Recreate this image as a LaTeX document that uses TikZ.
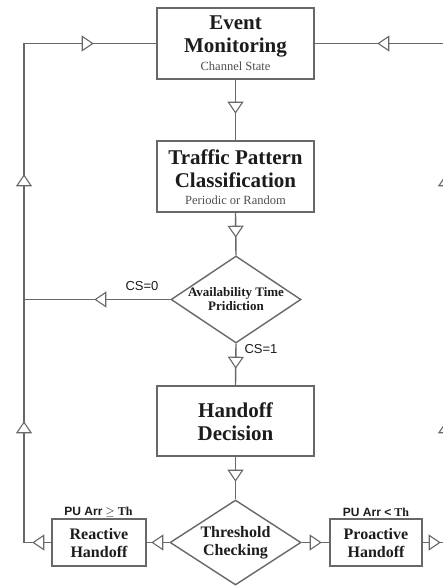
\documentclass[tikz,border=0pt]{standalone}
\usepackage{fontspec}
\setmainfont{Liberation Serif}
\newfontfamily\labelsans{Liberation Sans}
\usetikzlibrary{arrows.meta,decorations.markings,shapes.geometric}

\definecolor{linegray}{HTML}{686868}
\definecolor{inkdark}{HTML}{1C1C1C}
\definecolor{subgray}{HTML}{505050}

\tikzset{
  flowhead/.tip={Triangle[length=12pt,width=16pt,fill=white,line width=1.1pt]},
  arrowat/.style={postaction={decorate,decoration={markings,
      mark=at position #1 with {\arrow{flowhead}}}}},
  flow/.style={draw=linegray,line width=1.4pt},
  procbox/.style={draw=linegray,line width=1.4pt,rectangle,inner sep=0pt,
      minimum width=157pt,minimum height=71pt},
  smallbox/.style={draw=linegray,line width=1.4pt,rectangle,inner sep=0pt,
      minimum height=47pt},
  decision/.style={draw=linegray,line width=1.4pt,diamond,inner sep=0pt},
  bigtitle/.style={text=inkdark,align=center,inner sep=0pt,
      font=\fontsize{21}{23}\selectfont\bfseries},
  subtitle/.style={text=subgray,inner sep=0pt,font=\fontsize{12.5}{14}\selectfont},
  dectext/.style={text=inkdark,align=center,inner sep=0pt},
  condlabel/.style={text=inkdark,inner sep=0pt,font=\labelsans\fontsize{13}{15}\selectfont},
  arrlabel/.style={text=inkdark,inner sep=0pt,font=\fontsize{12}{14}\selectfont\bfseries},
}

\begin{document}
\begin{tikzpicture}[x=1pt,y=-1pt]
\useasboundingbox (0,0) rectangle (443,587);
\fill[white] (0,0) rectangle (443,587);
\clip (0,0) rectangle (443,587);

% process boxes
\node[procbox] (ev) at (235.5,43.5) {};
\node[bigtitle] (evtxt) at (235.5,36) {Event\\Monitoring};
\node[subtitle] (evsub) at (235.5,66) {Channel State};

\node[procbox] (tp) at (235.5,176.5) {};
\node[bigtitle] (tptxt) at (235.5,169) {Traffic Pattern\\Classification};
\node[subtitle] (tpsub) at (235.5,200) {Periodic or Random};

\node[procbox,minimum height=70pt] (hd) at (235.5,421) {};
\node[bigtitle] (hdtxt) at (235.5,421.5) {Handoff\\Decision};

% decisions
\node[decision,minimum width=130pt,minimum height=87pt] (av) at (236,299.5) {};
\node[dectext,font=\fontsize{13}{14}\selectfont\bfseries] (avtxt) at (236,299)
  {Availability Time\\Pridiction};

\node[decision,minimum width=131pt,minimum height=85pt] (th) at (235.5,542.5) {};
\node[dectext,font=\fontsize{16}{18}\selectfont\bfseries] (thtxt) at (235.5,543)
  {Threshold\\Checking};

% handoff boxes
\node[smallbox,minimum width=94pt] (re) at (99,542.5) {};
\node[dectext,font=\fontsize{16}{18}\selectfont\bfseries] (retxt) at (99,543)
  {Reactive\\Handoff};
\node[smallbox,minimum width=92pt] (pr) at (376,542.5) {};
\node[dectext,font=\fontsize{16}{18}\selectfont\bfseries] (prtxt) at (376,543)
  {Proactive\\Handoff};

% condition labels
\node[arrlabel] (relab) at (98.5,512) {{\labelsans PU Arr} $\geq$ Th};
\node[arrlabel] (prlab) at (376,512) {{\labelsans PU Arr <} Th};
\node[condlabel] (cs0) at (142,286) {CS=0};
\node[condlabel] (cs1) at (261,349) {CS=1};

% corner points of the feedback loops
\coordinate (lb) at (24,542.5);
\coordinate (lm) at (24,299.5);
\coordinate (lt) at (24,43.5);
\coordinate (rb) at (446,542.5);
\coordinate (rt) at (446,43.5);

% main chain
\draw[flow,arrowat=34pt] (ev.south) -- (tp.north);
\draw[flow,arrowat=25pt] (tp.south) -- (av.north);
\draw[flow,arrowat=25pt] (av.south) -- (hd.north);
\draw[flow,arrowat=25pt] (hd.south) -- (th.north);
\draw[flow,arrowat=18pt] (th.west) -- (re.east);
\draw[flow,arrowat=20pt] (th.east) -- (pr.west);

% channel busy branch
\draw[flow,arrowat=76pt] (av.west) -- (lm);

% reactive feedback loop
\draw[flow,arrowat=19pt,arrowat=148.5pt,arrowat=395.5pt,arrowat=596pt]
  (re.west) -- (lb) -- (lt) -- (ev.west);

% proactive feedback loop
\draw[flow,arrowat=18pt,arrowat=144.5pt,arrowat=391.5pt,arrowat=591pt]
  (pr.east) -- (rb) -- (rt) -- (ev.east);
\end{tikzpicture}
\end{document}
